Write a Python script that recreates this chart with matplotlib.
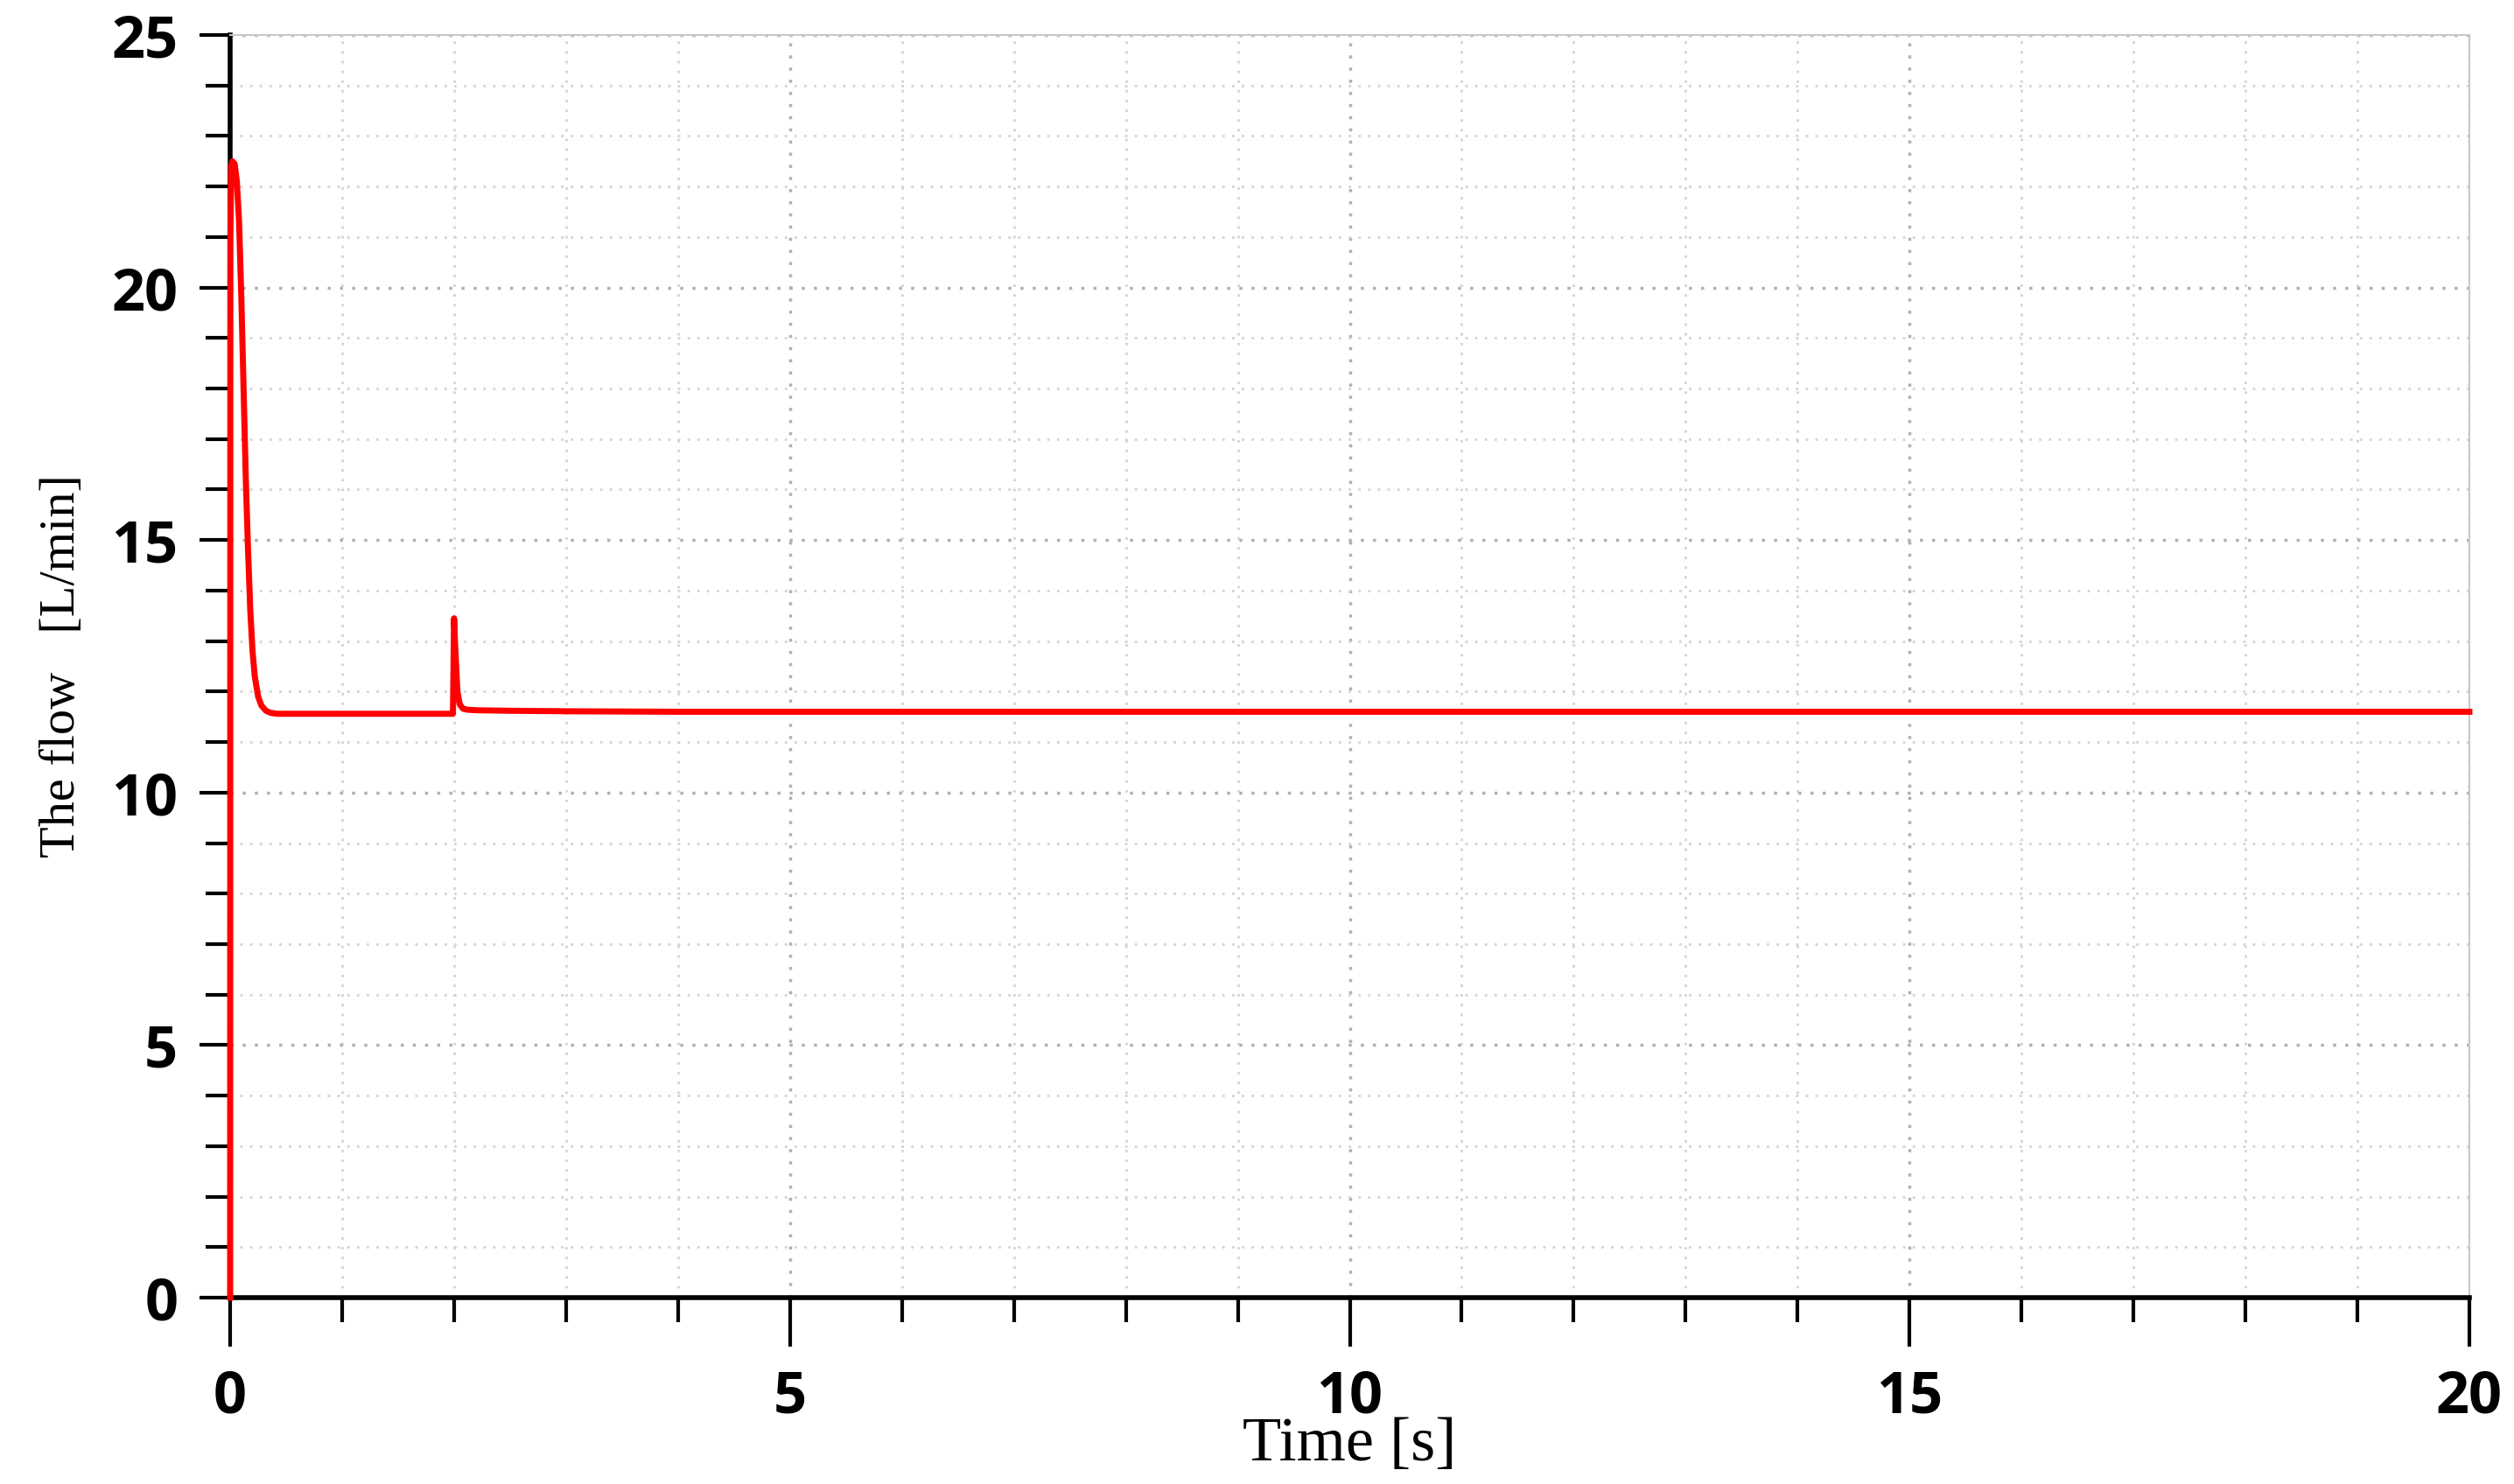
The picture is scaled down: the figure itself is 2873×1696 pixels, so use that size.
import matplotlib
matplotlib.use("Agg")
import matplotlib.pyplot as plt
from matplotlib.ticker import MultipleLocator

time_s = [0.0, 0.002, 0.01, 0.02, 0.04, 0.06, 0.08, 0.10, 0.12, 0.14, 0.16, 0.18, 0.20, 0.22, 0.25, 0.28, 0.32, 0.36, 0.42, 0.5, 1.0, 1.5, 1.99,
          2.0, 2.01, 2.03, 2.05, 2.08, 2.12, 2.2, 2.5, 3.0, 4.0, 6.0, 10.0, 15.0, 20.0]
flow = [0.0, 21.0, 22.4, 22.5, 22.45, 22.1, 21.3, 19.8, 18.0, 16.2, 14.8, 13.6, 12.8, 12.3, 11.9, 11.72, 11.62, 11.58, 11.56, 11.56, 11.56, 11.56, 11.56,
        13.45, 12.9, 12.0, 11.75, 11.66, 11.64, 11.63, 11.62, 11.61, 11.6, 11.6, 11.6, 11.6, 11.6]

fig = plt.figure(figsize=(28.73, 16.96), dpi=100)
ax = fig.add_axes([263/2873, 1 - 1483/1696, (2822-263)/2873, (1483-40)/1696])
ax.plot(time_s, flow, color="#ff0000", lw=5, solid_joinstyle="round", clip_on=False, zorder=5)
ax.set_xlim(0, 20)
ax.set_ylim(0, 25)
ax.xaxis.set_major_locator(MultipleLocator(5))
ax.xaxis.set_minor_locator(MultipleLocator(1))
ax.yaxis.set_major_locator(MultipleLocator(5))
ax.yaxis.set_minor_locator(MultipleLocator(1))
ax.grid(True, which="major", color="#b0b0b0", linestyle=(0, (1, 3)), lw=2.5)
ax.grid(True, which="minor", color="#d4d4d4", linestyle=(0, (1, 3)), lw=2)
ax.tick_params(which="minor", direction="out", length=20, width=3, color="black")
ax.tick_params(axis="y", which="major", direction="out", length=25, width=3, pad=18)
ax.tick_params(axis="x", which="major", direction="out", length=40, width=3, pad=18)
for lab in ax.get_xticklabels() + ax.get_yticklabels():
    lab.set_fontfamily("Open Sans")
    lab.set_fontweight("bold")
    lab.set_fontsize(48)
for s in ["left", "bottom"]:
    ax.spines[s].set_linewidth(4)
    ax.spines[s].set_color("black")
for s in ["top", "right"]:
    ax.spines[s].set_linewidth(1.5)
    ax.spines[s].set_color("#c8c8c8")
ax.set_xlabel("Time [s]", fontfamily="Liberation Serif", fontsize=52, labelpad=-8)
ax.set_ylabel("The flow   [L/min]", fontfamily="Liberation Serif", fontsize=42, labelpad=22)
fig.savefig("out.png", dpi=100, facecolor="white")
